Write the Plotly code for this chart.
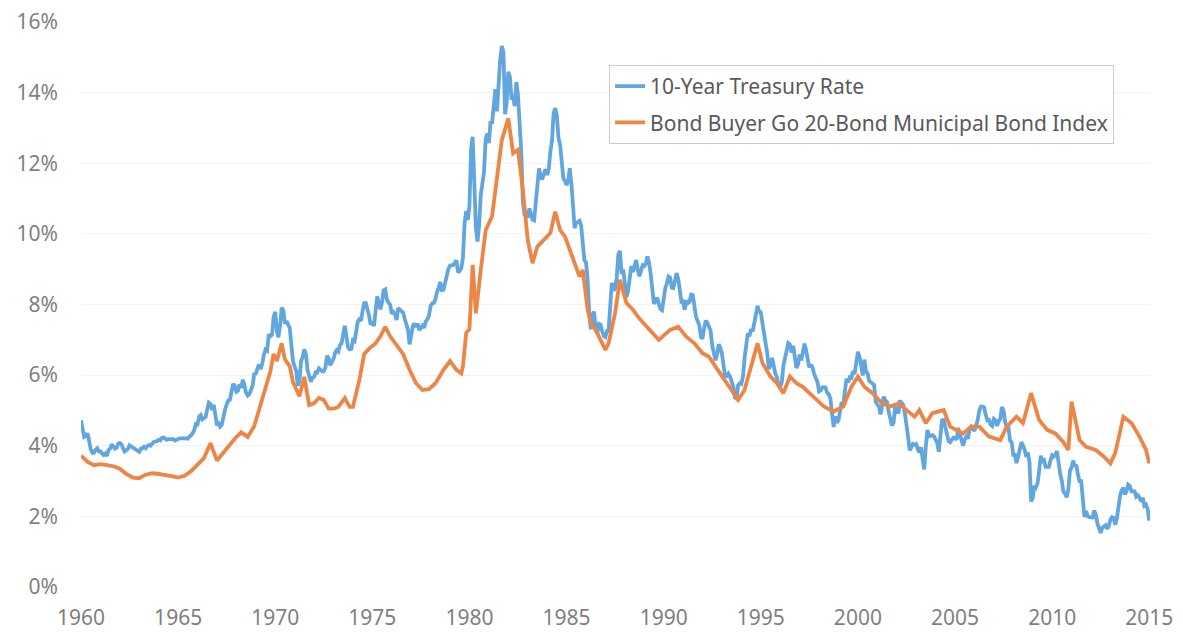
import pandas as pd
import plotly.graph_objects as go

# 10-Year Treasury Rate, monthly from Jan 1960 (percent)
treasury_rate = [
    4.72, 4.49, 4.25, 4.28, 4.35, 4.15, 3.90, 3.80, 3.80, 3.89, 3.93, 3.84,  # 1960
    3.84, 3.78, 3.74, 3.78, 3.71, 3.88, 3.92, 4.04, 3.98, 3.92, 3.94, 4.06,  # 1961
    4.08, 4.04, 3.93, 3.84, 3.87, 3.91, 4.01, 3.98, 3.98, 3.93, 3.92, 3.86,  # 1962
    3.83, 3.92, 3.93, 3.97, 3.93, 3.99, 4.02, 4.00, 4.08, 4.11, 4.12, 4.13,  # 1963
    4.17, 4.15, 4.22, 4.23, 4.20, 4.17, 4.19, 4.19, 4.20, 4.19, 4.15, 4.18,  # 1964
    4.19, 4.21, 4.21, 4.20, 4.21, 4.21, 4.20, 4.25, 4.29, 4.35, 4.45, 4.62,  # 1965
    4.61, 4.83, 4.87, 4.75, 4.78, 4.81, 5.02, 5.22, 5.18, 5.01, 5.16, 4.84,  # 1966
    4.58, 4.63, 4.54, 4.59, 4.85, 5.02, 5.16, 5.28, 5.30, 5.48, 5.75, 5.70,  # 1967
    5.53, 5.56, 5.74, 5.64, 5.87, 5.72, 5.50, 5.42, 5.46, 5.58, 5.70, 6.03,  # 1968
    6.04, 6.19, 6.30, 6.17, 6.32, 6.57, 6.72, 6.69, 7.16, 7.10, 7.14, 7.65,  # 1969
    7.79, 7.24, 7.07, 7.39, 7.91, 7.84, 7.46, 7.53, 7.39, 7.33, 6.84, 6.39,  # 1970
    6.24, 6.11, 5.70, 5.83, 6.39, 6.52, 6.73, 6.58, 6.14, 5.93, 5.81, 5.93,  # 1971
    5.95, 6.08, 6.07, 6.19, 6.13, 6.11, 6.11, 6.21, 6.55, 6.48, 6.28, 6.36,  # 1972
    6.46, 6.64, 6.71, 6.67, 6.85, 6.90, 7.13, 7.40, 7.09, 6.79, 6.73, 6.74,  # 1973
    6.99, 6.96, 7.21, 7.51, 7.58, 7.54, 7.81, 8.04, 8.04, 7.90, 7.68, 7.43,  # 1974
    7.50, 7.39, 7.73, 8.23, 8.06, 7.86, 8.06, 8.40, 8.43, 8.14, 8.05, 8.00,  # 1975
    7.74, 7.79, 7.73, 7.56, 7.90, 7.86, 7.83, 7.77, 7.59, 7.41, 7.29, 6.87,  # 1976
    7.21, 7.39, 7.46, 7.37, 7.46, 7.28, 7.33, 7.40, 7.34, 7.52, 7.58, 7.69,  # 1977
    7.96, 8.03, 8.04, 8.15, 8.35, 8.46, 8.64, 8.41, 8.42, 8.64, 8.81, 9.01,  # 1978
    9.10, 9.10, 9.12, 9.18, 9.25, 8.91, 8.95, 9.03, 9.33, 10.30, 10.65, 10.39,  # 1979
    10.80, 12.41, 12.75, 11.47, 10.18, 9.78, 10.25, 11.10, 11.51, 11.75, 12.68, 12.84,  # 1980
    12.57, 13.19, 13.12, 13.68, 14.10, 13.47, 14.28, 14.94, 15.32, 15.15, 13.39, 13.72,  # 1981
    14.59, 14.43, 13.86, 13.87, 13.62, 14.30, 13.95, 13.06, 12.34, 10.91, 10.55, 10.54,  # 1982
    10.46, 10.72, 10.51, 10.40, 10.38, 10.85, 11.38, 11.85, 11.65, 11.54, 11.69, 11.83,  # 1983
    11.67, 11.84, 12.32, 12.63, 13.41, 13.56, 13.36, 12.72, 12.52, 12.16, 11.57, 11.50,  # 1984
    11.38, 11.51, 11.86, 11.43, 10.85, 10.16, 10.31, 10.33, 10.37, 10.24, 9.78, 9.26,  # 1985
    9.19, 8.70, 7.78, 7.30, 7.71, 7.80, 7.30, 7.17, 7.45, 7.43, 7.25, 7.11,  # 1986
    7.08, 7.25, 7.25, 8.02, 8.61, 8.40, 8.45, 8.76, 9.42, 9.52, 8.86, 8.99,  # 1987
    8.67, 8.21, 8.37, 8.72, 9.09, 8.92, 9.06, 9.26, 8.98, 8.80, 8.96, 9.11,  # 1988
    9.09, 9.17, 9.36, 9.18, 8.86, 8.28, 8.02, 8.11, 8.19, 8.01, 7.87, 7.84,  # 1989
    8.21, 8.47, 8.59, 8.79, 8.76, 8.48, 8.47, 8.75, 8.89, 8.72, 8.39, 8.08,  # 1990
    8.09, 7.85, 8.11, 8.04, 8.07, 8.28, 8.27, 7.90, 7.65, 7.53, 7.42, 7.09,  # 1991
    7.03, 7.34, 7.54, 7.48, 7.39, 7.26, 6.84, 6.59, 6.42, 6.59, 6.87, 6.77,  # 1992
    6.60, 6.26, 5.98, 5.97, 6.04, 5.96, 5.81, 5.68, 5.36, 5.33, 5.72, 5.77,  # 1993
    5.75, 5.97, 6.48, 6.97, 7.18, 7.10, 7.30, 7.24, 7.46, 7.74, 7.96, 7.81,  # 1994
    7.78, 7.47, 7.20, 7.06, 6.63, 6.17, 6.28, 6.49, 6.20, 6.04, 5.93, 5.71,  # 1995
    5.65, 5.81, 6.27, 6.51, 6.74, 6.91, 6.87, 6.64, 6.83, 6.53, 6.20, 6.30,  # 1996
    6.58, 6.42, 6.69, 6.89, 6.71, 6.49, 6.22, 6.30, 6.21, 6.03, 5.88, 5.81,  # 1997
    5.54, 5.57, 5.65, 5.64, 5.65, 5.50, 5.46, 5.34, 4.81, 4.53, 4.83, 4.65,  # 1998
    4.72, 5.00, 5.23, 5.18, 5.54, 5.90, 5.79, 5.94, 5.92, 6.11, 6.03, 6.28,  # 1999
    6.66, 6.52, 6.26, 5.99, 6.44, 6.10, 6.05, 5.83, 5.80, 5.74, 5.72, 5.24,  # 2000
    5.16, 5.10, 4.89, 5.14, 5.39, 5.28, 5.24, 4.97, 4.73, 4.57, 4.65, 5.09,  # 2001
    5.04, 4.91, 5.28, 5.21, 5.16, 4.93, 4.65, 4.26, 3.87, 3.94, 4.05, 4.03,  # 2002
    4.05, 3.90, 3.81, 3.96, 3.57, 3.33, 3.98, 4.45, 4.27, 4.29, 4.30, 4.27,  # 2003
    4.15, 4.08, 3.83, 4.35, 4.72, 4.73, 4.50, 4.28, 4.13, 4.10, 4.19, 4.23,  # 2004
    4.22, 4.17, 4.50, 4.34, 4.14, 4.00, 4.18, 4.26, 4.20, 4.46, 4.54, 4.47,  # 2005
    4.42, 4.57, 4.72, 4.99, 5.11, 5.11, 5.09, 4.88, 4.72, 4.73, 4.60, 4.56,  # 2006
    4.76, 4.72, 4.56, 4.69, 4.75, 5.10, 5.00, 4.67, 4.52, 4.53, 4.15, 4.10,  # 2007
    3.74, 3.74, 3.51, 3.68, 3.88, 4.10, 4.01, 3.89, 3.69, 3.81, 3.53, 2.42,  # 2008
    2.52, 2.87, 2.82, 2.93, 3.29, 3.72, 3.56, 3.59, 3.40, 3.39, 3.40, 3.59,  # 2009
    3.73, 3.69, 3.73, 3.85, 3.42, 3.20, 3.01, 2.70, 2.65, 2.54, 2.76, 3.29,  # 2010
    3.39, 3.58, 3.41, 3.46, 3.17, 3.00, 3.00, 2.30, 1.98, 2.15, 2.01, 1.98,  # 2011
    1.97, 1.97, 2.17, 2.05, 1.80, 1.62, 1.53, 1.68, 1.72, 1.75, 1.65, 1.72,  # 2012
    1.91, 1.98, 1.96, 1.76, 1.93, 2.30, 2.58, 2.74, 2.81, 2.62, 2.72, 2.90,  # 2013
    2.86, 2.71, 2.72, 2.71, 2.56, 2.60, 2.54, 2.42, 2.53, 2.30, 2.33, 2.21,  # 2014
    1.88,                                                                      # 2015
]

# Bond Buyer GO 20-Bond Municipal Bond Index (percent)
muni_dates = [
    "1960-01", "1960-05", "1960-09", "1961-01", "1961-05", "1961-09",
    "1962-01", "1962-05", "1962-09", "1963-01", "1963-05", "1963-09",
    "1964-01", "1964-05", "1964-09", "1965-01", "1965-05", "1965-09",
    "1966-01", "1966-05", "1966-09", "1967-01", "1967-05", "1967-09",
    "1967-12", "1968-04", "1968-08", "1968-12", "1969-04", "1969-07",
    "1969-10", "1969-12", "1970-02", "1970-05", "1970-07", "1970-10",
    "1970-12", "1971-04", "1971-07", "1971-10", "1972-01", "1972-04",
    "1972-07", "1972-10", "1973-01", "1973-04", "1973-08", "1973-11",
    "1974-01", "1974-05", "1974-08", "1974-11", "1975-03", "1975-06",
    "1975-09", "1975-12", "1976-04", "1976-08", "1976-12", "1977-04",
    "1977-08", "1977-12", "1978-04", "1978-09", "1979-01", "1979-05",
    "1979-08", "1979-09", "1979-11", "1980-01", "1980-03", "1980-05",
    "1980-08", "1980-11", "1981-03", "1981-06", "1981-09", "1982-01",
    "1982-04", "1982-07", "1982-10", "1983-01", "1983-04", "1983-07",
    "1983-11", "1984-03", "1984-06", "1984-09", "1984-12", "1985-03",
    "1985-06", "1985-09", "1985-11", "1986-02", "1986-04", "1986-07",
    "1986-10", "1987-01", "1987-03", "1987-07", "1987-10", "1988-02",
    "1988-06", "1988-10", "1989-04", "1989-10", "1990-05", "1990-10",
    "1991-03", "1991-08", "1992-01", "1992-05", "1992-09", "1993-03",
    "1993-07", "1993-11", "1994-03", "1994-07", "1994-11", "1995-02",
    "1995-07", "1995-11", "1996-03", "1996-07", "1996-11", "1997-03",
    "1997-07", "1997-12", "1998-04", "1998-10", "1999-04", "1999-09",
    "2000-01", "2000-05", "2000-10", "2001-04", "2001-09", "2002-02",
    "2002-07", "2002-12", "2003-03", "2003-07", "2003-11", "2004-06",
    "2004-10", "2005-02", "2005-06", "2005-11", "2006-04", "2006-10",
    "2007-05", "2007-09", "2008-03", "2008-07", "2008-12", "2009-05",
    "2009-10", "2010-03", "2010-08", "2010-11", "2011-01", "2011-06",
    "2011-10", "2012-04", "2012-09", "2013-01", "2013-04", "2013-09",
    "2014-02", "2014-07", "2014-11", "2015-01",
]
muni_rate = [
    3.72, 3.55, 3.45, 3.48, 3.45, 3.42,
    3.35, 3.20, 3.10, 3.08, 3.18, 3.22,
    3.20, 3.18, 3.14, 3.10, 3.15, 3.28,
    3.45, 3.65, 4.07, 3.58, 3.80, 4.05,
    4.20, 4.38, 4.25, 4.55, 5.20, 5.60,
    6.10, 6.60, 6.40, 6.90, 6.45, 6.25,
    5.80, 5.40, 5.95, 5.15, 5.20, 5.35,
    5.30, 5.05, 5.05, 5.10, 5.35, 5.10,
    5.10, 5.86, 6.60, 6.75, 6.90, 7.10,
    7.37, 7.10, 6.85, 6.60, 6.15, 5.77,
    5.58, 5.60, 5.77, 6.15, 6.40, 6.15,
    6.05, 6.25, 7.20, 7.30, 9.12, 7.75,
    8.98, 10.10, 10.50, 11.60, 12.66, 13.27,
    12.28, 12.38, 11.25, 9.83, 9.17, 9.64,
    9.83, 10.02, 10.63, 10.11, 9.92, 9.55,
    9.17, 8.79, 8.98, 7.85, 7.47, 7.28,
    7.00, 6.71, 6.90, 7.75, 8.70, 8.04,
    7.85, 7.60, 7.30, 7.00, 7.28, 7.37,
    7.09, 6.90, 6.62, 6.52, 6.24, 5.86,
    5.58, 5.30, 5.58, 6.24, 6.90, 6.34,
    5.96, 5.77, 5.49, 5.96, 5.77, 5.67,
    5.49, 5.30, 5.11, 4.97, 5.11, 5.67,
    5.96, 5.67, 5.49, 5.20, 5.11, 5.20,
    5.01, 4.82, 5.01, 4.64, 4.92, 5.01,
    4.54, 4.45, 4.35, 4.54, 4.54, 4.26,
    4.16, 4.54, 4.82, 4.64, 5.49, 4.73,
    4.45, 4.35, 4.10, 3.88, 5.25, 4.16,
    3.97, 3.88, 3.69, 3.50, 3.79, 4.82,
    4.64, 4.26, 3.88, 3.50,
]

series_names = ["10-Year Treasury Rate", "Bond Buyer Go 20-Bond Municipal Bond Index"]
series_colors = ["#62a6df", "#ec8546"]

treasury_dates = pd.date_range("1960-01-01", periods=len(treasury_rate), freq="MS")
muni_x = pd.to_datetime(muni_dates)

FONT = "Noto Sans"

fig = go.Figure()
fig.add_trace(go.Scatter(
    x=treasury_dates, y=treasury_rate, mode="lines", name=series_names[0],
    line=dict(color=series_colors[0], width=3.8), legendgroup="a",
))
fig.add_trace(go.Scatter(
    x=muni_x, y=muni_rate, mode="lines", name=series_names[1],
    line=dict(color=series_colors[1], width=3.8), legendgroup="b",
))

fig.update_layout(
    width=1183, height=633,
    margin=dict(l=73, r=41, t=14, b=54, autoexpand=False),
    paper_bgcolor="white", plot_bgcolor="white",
    font=dict(family=FONT, color="#7f7f7f"),
    showlegend=True,
    legend=dict(
        x=0.494, y=0.924, xanchor="left", yanchor="top",
        bgcolor="rgba(255,255,255,1)", bordercolor="#cccccc", borderwidth=1,
        font=dict(family=FONT, size=21, color="#595959"),
        tracegroupgap=6, itemwidth=30,
    ),
    xaxis=dict(
        type="date", automargin=False,
        range=["1960-01-01", "2015-01-15"],
        tick0="1960-01-01", dtick="M60", tickformat="%Y",
        showgrid=False, zeroline=False, showline=False,
        ticks="", tickfont=dict(family=FONT, size=21, color="#7f7f7f"),
        ticklabelstandoff=16, ticklabeloverflow="allow",
    ),
    yaxis=dict(
        automargin=False,
        range=[0, 16], dtick=2, ticksuffix="%",
        showgrid=True, gridcolor="#f3f3f3", gridwidth=1,
        zeroline=False, showline=False, ticks="",
        tickfont=dict(family=FONT, size=21, color="#7f7f7f"),
        ticklabelstandoff=22, ticklabeloverflow="allow",
    ),
)

fig.write_html("out.html")
